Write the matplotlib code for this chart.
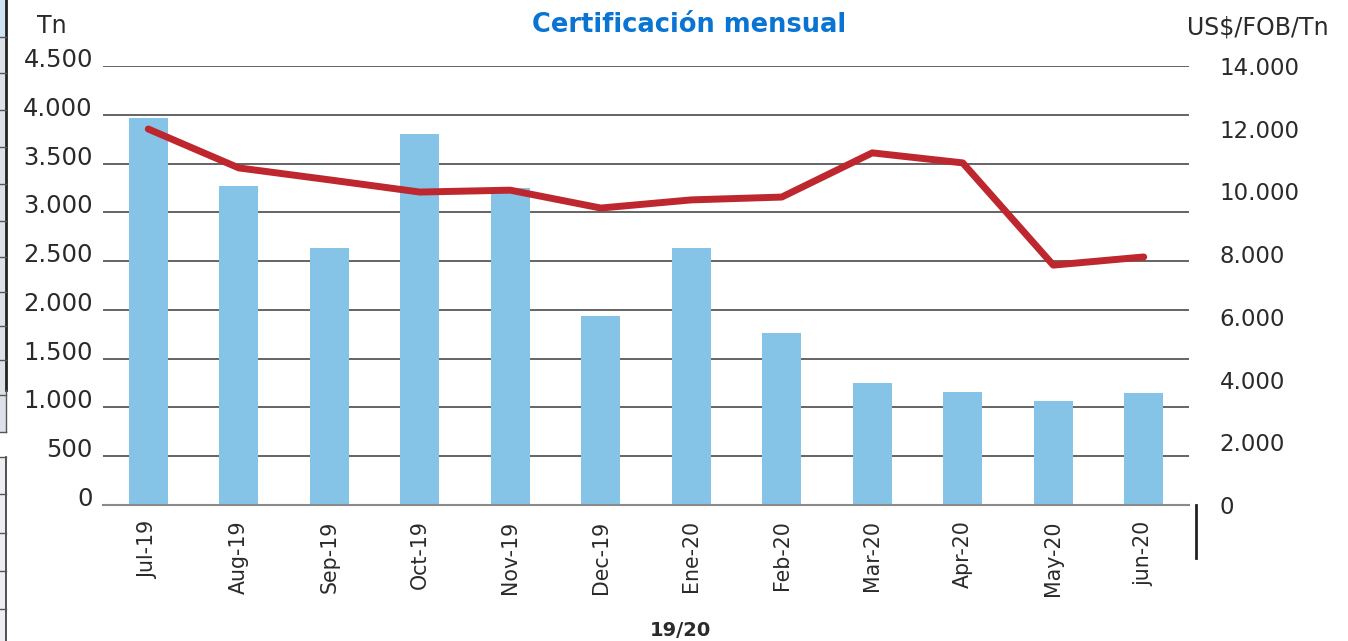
import matplotlib
matplotlib.use("Agg")
import matplotlib.pyplot as plt
from matplotlib.lines import Line2D
from matplotlib.patches import Rectangle
import matplotlib.transforms as mtransforms
import numpy as np

categories = ["Jul-19", "Aug-19", "Sep-19", "Oct-19", "Nov-19", "Dec-19",
              "Ene-20", "Feb-20", "Mar-20", "Apr-20", "May-20", "jun-20"]
tonnes = [3970, 3270, 2635, 3800, 3250, 1940, 2635, 1765, 1250, 1160, 1065, 1150]
price = [11990, 10750, 10370, 9980, 10040, 9470, 9730, 9820, 11230, 10910, 7650, 7910]
left_ticks = [0, 500, 1000, 1500, 2000, 2500, 3000, 3500, 4000, 4500]
right_ticks = [0, 2000, 4000, 6000, 8000, 10000, 12000, 14000]

def fmt(v):
    return f"{v:,}".replace(",", ".")

plt.rcParams['font.family'] = ['DejaVu Sans']
TXT = "#2a2a2a"

W, H = 1348, 641
fig = plt.figure(figsize=(W / 100, H / 100), dpi=100)
ax = fig.add_axes([103 / W, 1 - 505 / H, (1189 - 103) / W, (505 - 66) / H])
x = np.arange(len(categories))

ax.bar(x, tonnes, width=0.43, color="#85c4e7", zorder=2)
ax.set_xlim(-0.5, len(categories) - 0.5)
ax.set_ylim(0, 4500)
ax.set_yticks(left_ticks)
ax.set_yticklabels([])
ax.yaxis.grid(True, color="#3a3a3a", linewidth=1.1, zorder=0)
ax.set_axisbelow(True)
for s in ["top", "right", "left"]:
    ax.spines[s].set_visible(False)
ax.spines["bottom"].set_color("#8a8a8a")
ax.spines["bottom"].set_linewidth(1.5)
ax.tick_params(axis="y", length=0)
ax.set_xticks(x)
ax.set_xticklabels(categories, rotation=90, fontsize=14.8, color=TXT)
ax.tick_params(axis="x", length=0, pad=11)

# left tick labels, slightly raised above their gridlines
ltrans = mtransforms.blended_transform_factory(fig.transFigure, ax.transData) + \
    mtransforms.ScaledTranslation(0, 6 / 100, fig.dpi_scale_trans)
for v in left_ticks:
    ax.text(93 / W, v, fmt(v), transform=ltrans, ha="right", va="center",
            fontsize=17.5, color=TXT)

ax2 = ax.twinx()
ax2.plot(x, price, color="#be272e", linewidth=5, solid_capstyle="round",
         solid_joinstyle="round", zorder=3)
ax2.set_ylim(0, 14000)
ax2.set_yticks(right_ticks)
ax2.set_yticklabels([fmt(v) for v in right_ticks])
for s in ["top", "right", "left", "bottom"]:
    ax2.spines[s].set_visible(False)
ax2.tick_params(axis="y", length=0, pad=22, labelsize=16.5, colors=TXT)

fig.text(689 / W, 1 - 25 / H, "Certificación mensual", color="#0a74d2",
         fontsize=18.5, fontweight="bold", ha="center", va="center")
fig.text(52 / W, 1 - 26 / H, "Tn", color=TXT, fontsize=17,
         ha="center", va="center")
fig.text(1258 / W, 1 - 27 / H, "US$/FOB/Tn", color=TXT, fontsize=17,
         ha="center", va="center")
fig.text(680 / W, 1 - 631 / H, "19/20", color=TXT, fontsize=14,
         fontweight="bold", ha="center", va="center")

# short vertical frame mark at right bottom
fig.add_artist(Line2D([1196 / W, 1196 / W], [1 - 505 / H, 1 - 558 / H],
                      color="#222222", linewidth=2, transform=fig.transFigure))

# left-edge spreadsheet fragment
fig.add_artist(Rectangle((0, 1 - 432 / H), 6 / W, 432 / H, transform=fig.transFigure,
                         facecolor="#dde2e8", edgecolor="none"))
fig.add_artist(Rectangle((0, 1 - 37 / H), 6 / W, 37 / H, transform=fig.transFigure,
                         facecolor="#cfe3f3", edgecolor="none"))
fig.add_artist(Line2D([6 / W, 6 / W], [1, 1 - 390 / H], color="#222222",
                      linewidth=2, transform=fig.transFigure))
fig.add_artist(Line2D([6 / W, 6 / W], [1 - 390 / H, 1 - 432 / H], color="#555555",
                      linewidth=1, transform=fig.transFigure))
for yy in [37, 73, 110, 147, 184, 221, 257, 292, 326, 360, 395, 432]:
    fig.add_artist(Line2D([0, 6 / W], [1 - yy / H, 1 - yy / H], color="#555555",
                          linewidth=1, transform=fig.transFigure))
fig.add_artist(Rectangle((0, 0), 6 / W, (641 - 457) / H, transform=fig.transFigure,
                         facecolor="#eceef1", edgecolor="none"))
fig.add_artist(Line2D([6 / W, 6 / W], [0, 1 - 457 / H], color="#333333",
                      linewidth=1.2, transform=fig.transFigure))
for yy in [457, 494, 533, 571, 609]:
    fig.add_artist(Line2D([0, 6 / W], [1 - yy / H, 1 - yy / H], color="#555555",
                          linewidth=1, transform=fig.transFigure))

fig.savefig("out.png", dpi=100)
